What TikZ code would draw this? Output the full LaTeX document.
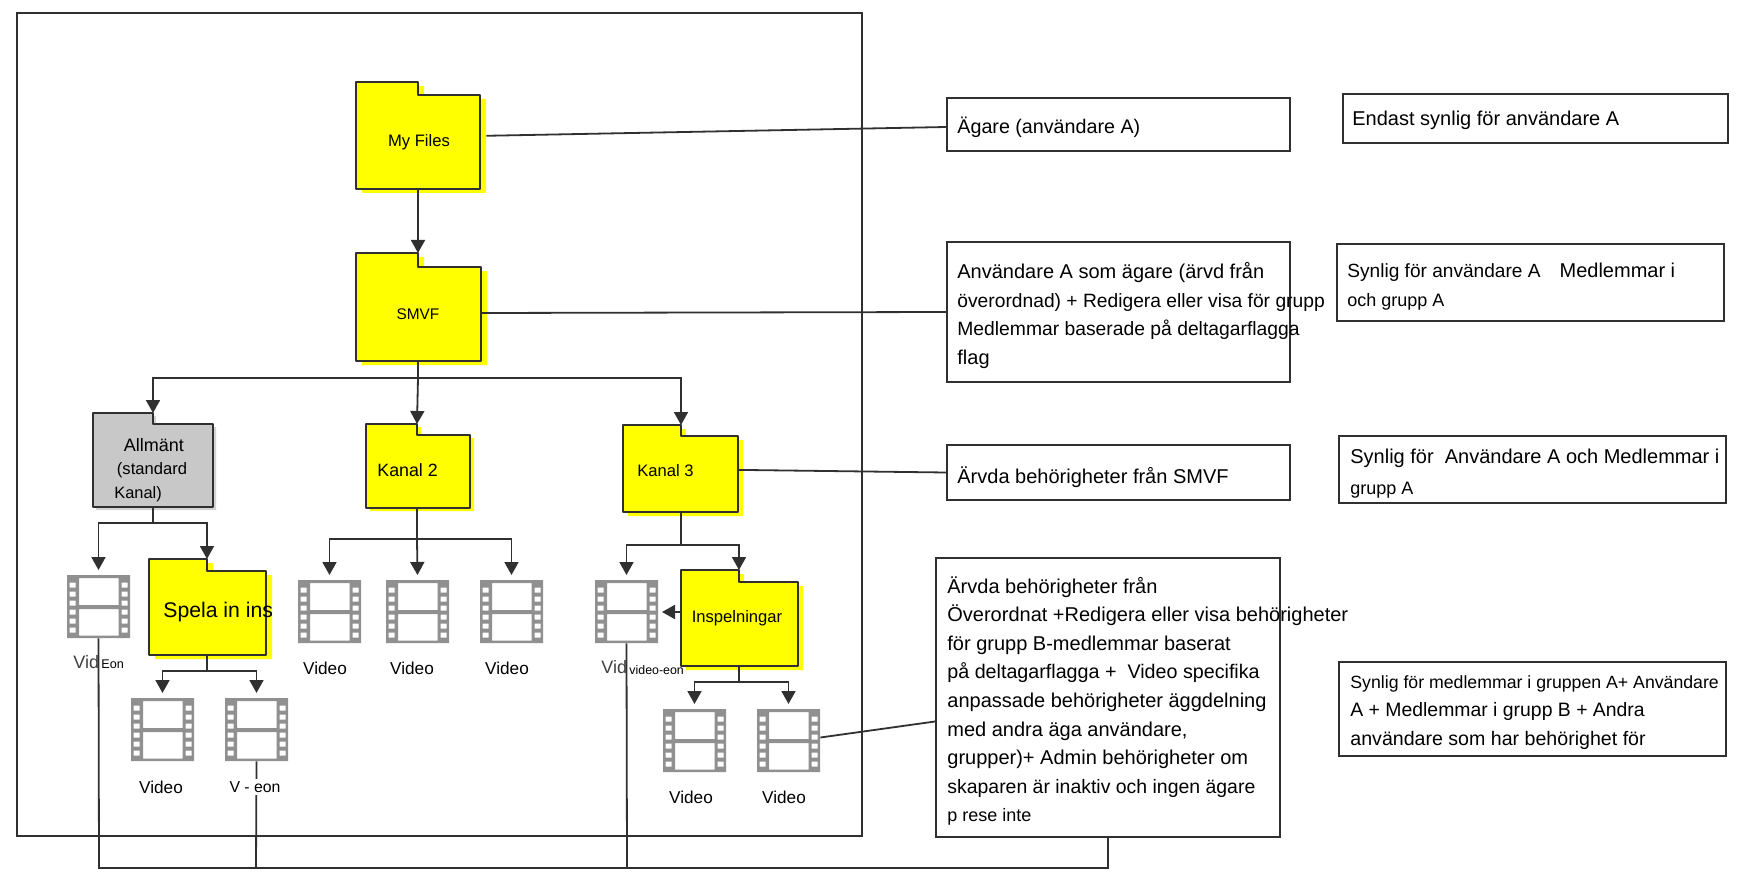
\documentclass[tikz,border=0pt]{standalone}
\usepackage{fontspec}
\setmainfont{Liberation Sans}
\usetikzlibrary{arrows.meta,fit}

\definecolor{inkline}{HTML}{303030}
\definecolor{filmgrey}{HTML}{909090}
\definecolor{foldergrey}{HTML}{C8C8C8}
\definecolor{foldershade}{HTML}{D4D4D4}
\definecolor{folderyellow}{HTML}{FFFF00}

\tikzset{
  link/.style={draw=inkline,line width=0.9pt},
  arrowlink/.style={link,-{Triangle[length=6.5pt,width=7pt]}},
  infobox/.style={draw=inkline,line width=1pt,inner sep=0pt,fill=white},
  frame/.style={draw=inkline,line width=0.9pt,inner sep=0pt},
  label/.style={inner sep=0pt,text=black},
  infotext/.style={label,anchor=north west,align=left,font=\fontsize{10}{14.3}\selectfont},
}

% \folderbox{name}{left}{top}{right}{bottom}{tab x}{tab y}{fill}{shadow}{shadow dx}{shadow dy}
\newcommand\folderbox[9]{%
  \def\fname{#1}\def\fl{#2}\def\ft{#3}\def\fr{#4}\def\fb{#5}\def\ftx{#6}\def\fty{#7}\def\ffill{#8}\def\fshade{#9}%
  \folderboxrest}
\newcommand\folderboxrest[2]{%
  \fill[\fshade,shift={(#1,#2)}] (\fl,\ft) -- (\ftx,\ft) -- (\ftx,\fty) -- (\fr,\fty) -- (\fr,\fb) -- (\fl,\fb) -- cycle;
  \filldraw[fill=\ffill,draw=inkline,line width=1pt,line join=round]
    (\fl,\ft) -- (\ftx,\ft) -- (\ftx,\fty) -- (\fr,\fty) -- (\fr,\fb) -- (\fl,\fb) -- cycle;
  \node[fit={(\fl,\ft)(\fr,\fb)},inner sep=0pt] (\fname) {};
  \coordinate (\fname-tab) at (\ftx,\ft);
  \coordinate (\fname-foot) at (\ftx,\fb);
}

% \filmicon{name}{left}{top}: a 63 by 63 strip of film with two frames
\newcommand\filmicon[3]{%
  \begin{scope}[shift={(#2,#3)}]
    \fill[filmgrey,even odd rule] (0,0) rectangle (63,63)
      (12,3) rectangle (51.5,30) (12,34) rectangle (51.5,60.5)
      \foreach \hy in {10,19,28,37,46,55} {
        (2.5,\hy-2.5) rectangle (8.5,\hy+2.5) (54.5,\hy-2.5) rectangle (60.5,\hy+2.5)
      };
    \node[minimum width=31.5pt,minimum height=31.5pt,inner sep=0pt] (#1) at (31.5,31.5) {};
    \coordinate (#1-top) at (31.5,-5);
  \end{scope}}

\begin{document}
\begin{tikzpicture}[x=0.5pt,y=-0.5pt]
\useasboundingbox (0,0) rectangle (1737,888);
\fill[white] (0,0) rectangle (1737,888);

% enclosing library frame
\node[frame,fit={(17,13)(862,836)}] (library) {};

% folders
\folderbox{myfiles}{356}{82}{480}{189}{418}{95}{folderyellow}{folderyellow}{6}{4}
\folderbox{smvf}{356}{253}{481}{361}{418}{267}{folderyellow}{folderyellow}{6}{4}
\folderbox{general}{93}{413}{213}{507}{153}{424}{foldergrey}{foldershade}{3}{3}
\folderbox{kanaltwo}{366}{424}{470}{508}{417}{435}{folderyellow}{folderyellow}{4}{3}
\folderbox{kanalthree}{623}{425}{738}{512}{681}{436}{folderyellow}{folderyellow}{5}{4}
\folderbox{recordings}{149}{559}{266}{655}{207}{571}{folderyellow}{folderyellow}{6}{4}
\folderbox{inspel}{681}{570}{798}{666}{739}{582}{folderyellow}{folderyellow}{5}{4}

% video icons
\filmicon{genvideo}{67}{575}
\filmicon{recvideoa}{131}{698}
\filmicon{recvideob}{225}{698}
\filmicon{twovideoa}{298}{580}
\filmicon{twovideob}{386}{580}
\filmicon{twovideoc}{480}{580}
\filmicon{threevideo}{595}{580}
\filmicon{insvideoa}{663}{709}
\filmicon{insvideob}{757}{709}

% branching points of the tree
\coordinate (smvf-bus) at (418,378);
\coordinate (general-bus) at (153,523);
\coordinate (rec-bus) at (207,671);
\coordinate (two-bus) at (417,539);
\coordinate (three-bus) at (681,545);
\coordinate (ins-bus) at (739,682);
\coordinate (ins-side) at (681,612);
\coordinate (three-side) at (662,612);

% tree connectors
\draw[arrowlink] (myfiles-foot) -- (smvf-tab);
\draw[link] (smvf-foot) -- (smvf-bus);
\draw[arrowlink] (smvf-bus) -| (general-tab);
\draw[arrowlink] (smvf-bus) -- (kanaltwo-tab);
\draw[arrowlink] (smvf-bus) -| (kanalthree-tab);

\draw[link] (general-foot) -- (general-bus);
\draw[arrowlink] (general-bus) -| (genvideo-top);
\draw[arrowlink] (general-bus) -| (recordings-tab);
\draw[link] (recordings-foot) -- (rec-bus);
\draw[arrowlink] (rec-bus) -| (recvideoa-top);
\draw[arrowlink] (rec-bus) -| (recvideob-top);

\draw[link] (kanaltwo-foot) -- (two-bus);
\draw[arrowlink] (two-bus) -| (twovideoa-top);
\draw[arrowlink] (two-bus) -- (twovideob-top);
\draw[arrowlink] (two-bus) -| (twovideoc-top);

\draw[link] (kanalthree-foot) -- (three-bus);
\draw[arrowlink] (three-bus) -| (threevideo-top);
\draw[arrowlink] (three-bus) -| (inspel-tab);
\draw[arrowlink] (ins-side) -- (three-side);
\draw[link] (inspel-foot) -- (ins-bus);
\draw[arrowlink] (ins-bus) -| (insvideoa-top);
\draw[arrowlink] (ins-bus) -| (insvideob-top);

% shared line from the videos to the last permission box
\coordinate (tail-left) at (99,868);
\coordinate (tail-mid) at (256,868);
\coordinate (tail-three) at (627,868);
\coordinate (tail-right) at (1108,868);

% permission boxes
\node[infobox,fit={(947,98)(1290,151)}] (ownerbox) {};
\node[infobox,fit={(947,242)(1290,382)}] (smvfbox) {};
\node[infobox,fit={(947,445)(1290,500)}] (inheritbox) {};
\node[infobox,fit={(936,558)(1280,837)}] (videobox) {};

% visibility boxes
\node[infobox,fit={(1343,94)(1728,143)}] (visowner) {};
\node[infobox,fit={(1337,244)(1724,321)}] (vissmvf) {};
\node[infobox,fit={(1339,436)(1726,503)}] (viskanal) {};
\node[infobox,fit={(1339,662)(1726,756)}] (visvideo) {};

% links from folders and videos to their permission boxes
\draw[link,shorten <=3pt] ([yshift=-0.2pt]myfiles.east) -- ([yshift=-1.25pt]ownerbox.west);
\draw[link] ([yshift=-3pt]smvf.east) -- (smvfbox.west);
\draw[link] ([yshift=-0.7pt]kanalthree.east) -- (inheritbox.west);
\draw[link] ([yshift=1.5pt]insvideob.east) -- ([yshift=-12pt]videobox.west);

\draw[link] (genvideo.south) -- (tail-left) -- (tail-right) -- (videobox.south -| tail-right);
\draw[link] (recvideob.south) -- (tail-mid);
\draw[link] (threevideo.south) -- (tail-three);

% folder captions
\node[label,font=\fontsize{8.3}{10}\selectfont] (tmyfiles) at (419,142) {My Files};
\node[label,font=\fontsize{7.7}{10}\selectfont] (tsmvf) at (418,314) {SMVF};
\node[label,font=\fontsize{9}{10}\selectfont] (tgeneral) at (154,445) {Allmänt};
\node[label,font=\fontsize{8.3}{10}\selectfont] (tstandard) at (152,470) {(standard};
\node[label,anchor=west,font=\fontsize{8.2}{10}\selectfont] (tkanal) at (114,494) {Kanal)};
\node[label,anchor=west,font=\fontsize{8.9}{10}\selectfont] (tkanaltwo) at (377,470) {Kanal 2};
\node[label,anchor=west,font=\fontsize{8.3}{10}\selectfont] (tkanalthree) at (637,471) {Kanal 3};
\node[label,anchor=west,font=\fontsize{10.6}{10}\selectfont] (trecord) at (163,612) {Spela in ins};
\node[label,font=\fontsize{8.3}{10}\selectfont] (tinspel) at (737,618) {Inspelningar};

% video captions
\tikzset{videolabel/.style={label,font=\fontsize{8.6}{10}\selectfont}}
\node[label,anchor=west,text=black!75,font=\fontsize{9}{10}\selectfont] (tvid) at (73,662) {Vid};
\node[label,anchor=west,font=\fontsize{6.3}{10}\selectfont] (teon) at (101,664) {Eon};
\node[videolabel] (tva) at (161,787) {Video};
\node[videolabel,font=\fontsize{7.9}{10}\selectfont,fill=white,inner ysep=1pt] (tvb) at (255,787) {V - eon};
\node[videolabel] (tvc) at (325,668) {Video};
\node[videolabel] (tvd) at (412,668) {Video};
\node[videolabel] (tve) at (507,668) {Video};
\node[label,anchor=west,text=black!75,font=\fontsize{9}{10}\selectfont] (tvid2) at (601,667) {Vid};
\node[label,anchor=west,font=\fontsize{6.2}{10}\selectfont] (tveon) at (629,670) {video-eon};
\node[videolabel] (tvf) at (691,797) {Video};
\node[videolabel] (tvg) at (784,797) {Video};

% permission texts
\node[infotext,anchor=west] (townerbox) at (957,127) {{\fontsize{9.85}{14.3}\selectfont Ägare (användare A)}};
\node[infotext] (tsmvfbox) at (957,262) {Användare A som ägare (ärvd från\\
  {\fontsize{9.62}{14.3}\selectfont överordnad) + Redigera eller visa för grupp}\\
  {\fontsize{9.65}{14.3}\selectfont Medlemmar baserade på deltagarflagga}\\
  flag};
\node[infotext,anchor=west] (tinherit) at (957,477) {Ärvda behörigheter från SMVF};
\node[infotext] (tvideobox) at (947,576) {Ärvda behörigheter från\\
  Överordnat +Redigera eller visa behörigheter\\
  för grupp B-medlemmar baserat\\
  {\fontsize{9.85}{14.3}\selectfont på deltagarflagga + \ Video specifika}\\
  anpassade behörigheter äggdelning\\
  med andra äga användare,\\
  grupper)+ Admin behörigheter om\\
  {\fontsize{9.72}{14.3}\selectfont skaparen är inaktiv och ingen ägare}\\
  {\fontsize{9}{14.3}\selectfont p rese inte}};

% visibility texts
\node[infotext,anchor=west] (tvisowner) at (1352,120) {Endast synlig för användare A};
\node[infotext] (tvissmvf) at (1347,263) {{\fontsize{9.55}{14.3}\selectfont Synlig för användare A}\hspace{9.5pt}Medlemmar i\\
  {\fontsize{9}{14.3}\selectfont och grupp A}};
\node[infotext] (tviskanal) at (1350,449) {Synlig för \ Användare A och Medlemmar i\\[1pt]
  {\fontsize{9}{15}\selectfont grupp A}};
\node[infotext] (tvisvideo) at (1350,675) {{\fontsize{8.85}{14.3}\selectfont Synlig för medlemmar i gruppen A+ Användare}\\
  {\fontsize{9.7}{14.3}\selectfont A + Medlemmar i grupp B + Andra}\\
  {\fontsize{9.8}{14.3}\selectfont användare som har behörighet för}};
\end{tikzpicture}
\end{document}
